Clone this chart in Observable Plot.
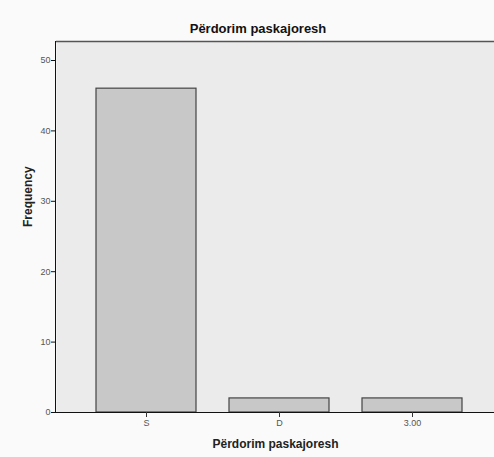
<!DOCTYPE html>
<html>
<head>
<meta charset="utf-8">
<script src="https://cdn.jsdelivr.net/npm/d3@7"></script>
<script src="https://cdn.jsdelivr.net/npm/@observablehq/plot@0.6"></script>
<style>
  html, body { margin: 0; padding: 0; background: #fafafa; overflow: hidden; }
  body { width: 494px; height: 457px; font-family: "Liberation Sans", Arial, sans-serif; }
  #title { height: 40px; box-sizing: border-box; padding-top: 22px; padding-left: 22px; text-align: center; font-weight: bold; font-size: 13px; color: #111; line-height: 14px; }
  #chart svg { display: block; max-width: none !important; width: 494px; height: 417px; }
</style>
</head>
<body>
<div id="title">Përdorim paskajoresh</div>
<div id="chart"></div>
<script>
const categories = ["S", "D", "3.00"];
const frequencies = [46, 2, 2];
const yTicks = [0, 10, 20, 30, 40, 50];
const yMax = 52.7;
const xLabel = "Përdorim paskajoresh";
const yLabel = "Frequency";

const data = categories.map((c, i) => ({category: c, value: frequencies[i]}));

// draws the left axis line along the plot's left edge
function leftAxisLine(index, scales, values, dim) {
  const ns = "http://www.w3.org/2000/svg";
  const l = document.createElementNS(ns, "line");
  const x = dim.marginLeft - 0.5;
  l.setAttribute("x1", x); l.setAttribute("x2", x);
  l.setAttribute("y1", dim.marginTop); l.setAttribute("y2", dim.height - dim.marginBottom);
  l.setAttribute("stroke", "#111");
  return l;
}

const chart = Plot.plot({
  width: 494,
  height: 417,
  marginTop: 1,
  marginLeft: 56,
  marginRight: 0,
  marginBottom: 45,
  style: {background: "transparent", fontFamily: "Liberation Sans, Arial, sans-serif", fontSize: "9px", color: "#555"},
  x: {domain: categories, paddingInner: 0.25, paddingOuter: 0.265, align: 0.55, label: null},
  y: {domain: [0, yMax], label: null},
  marks: [
    Plot.frame({fill: "#ebebeb", stroke: "none"}),
    Plot.ruleY([yMax], {stroke: "#555", strokeWidth: 1.5}),
    Plot.barY(data, {x: "category", y: "value", fill: "#c8c8c8", stroke: "#444", strokeWidth: 1.2}),
    leftAxisLine,
    Plot.ruleY([0], {stroke: "#111"}),
    Plot.axisY({ticks: yTicks, tickSize: 5, tickPadding: 1, stroke: "#111", fill: "#555", fontSize: 9, label: null}),
    Plot.axisX({tickSize: 5, tickPadding: 2, stroke: "#333", fill: "#555", fontSize: 9, label: null}),
    Plot.text([xLabel], {frameAnchor: "bottom", dy: 35, fontWeight: "bold", fontSize: 12, fill: "#222"}),
    Plot.text([yLabel], {frameAnchor: "left", dx: -28, rotate: -90, fontWeight: "bold", fontSize: 12, fill: "#222"})
  ]
});
document.getElementById("chart").append(chart);
</script>
</body>
</html>
